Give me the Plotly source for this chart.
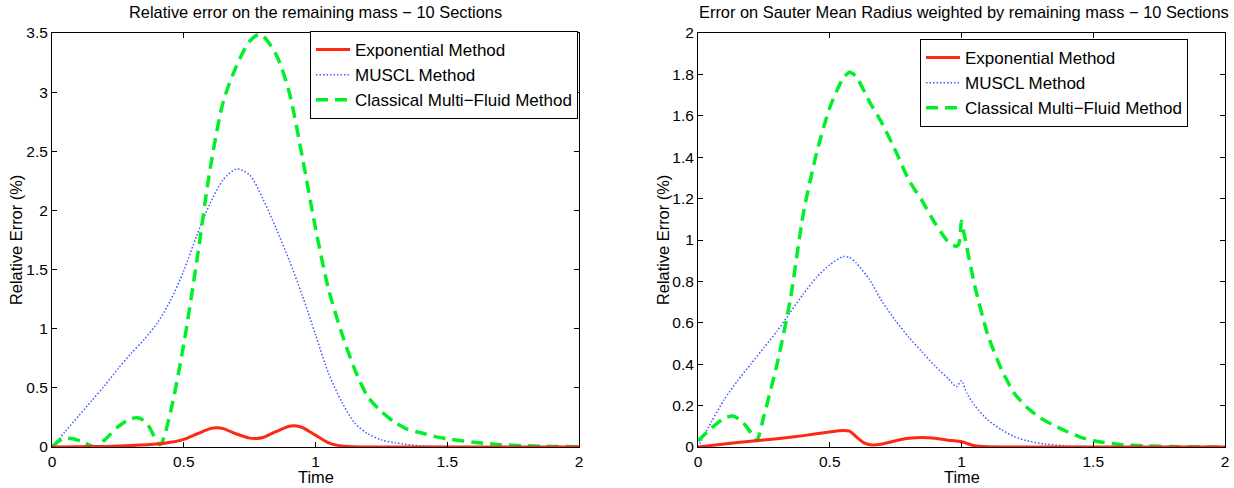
import plotly.graph_objects as go

# ---------------- data: left panel (remaining mass) ----------------
t_exp_L = [0, 0.1, 0.2, 0.3, 0.4, 0.45, 0.5, 0.55, 0.6, 0.625, 0.65, 0.7, 0.75, 0.775, 0.8,
           0.85, 0.9, 0.92, 0.95, 1.0, 1.05, 1.1, 1.15, 1.2, 1.5, 2.0]
v_exp_L = [0, 0.002, 0.005, 0.012, 0.025, 0.04, 0.065, 0.11, 0.155, 0.163, 0.155, 0.11, 0.075,
           0.072, 0.08, 0.13, 0.175, 0.18, 0.165, 0.10, 0.035, 0.008, 0.002, 0.0, 0.0, 0.0]

t_mus_L = [0, 0.05, 0.1, 0.15, 0.2, 0.25, 0.3, 0.35, 0.4, 0.45, 0.5, 0.55, 0.6, 0.65, 0.7, 0.75,
           0.8, 0.85, 0.9, 0.95, 1.0, 1.05, 1.1, 1.15, 1.2, 1.25, 1.3, 1.4, 1.5, 1.7, 2.0]
v_mus_L = [0, 0.13, 0.26, 0.39, 0.52, 0.66, 0.79, 0.91, 1.05, 1.24, 1.49, 1.79, 2.06, 2.26, 2.35,
           2.30, 2.10, 1.85, 1.58, 1.28, 0.95, 0.62, 0.38, 0.20, 0.11, 0.06, 0.035, 0.01, 0.003,
           0.0, 0.0]

t_cmf_L = [0, 0.04, 0.08, 0.12, 0.165, 0.2, 0.25, 0.3, 0.33, 0.36, 0.41, 0.45, 0.5, 0.55, 0.6,
           0.65, 0.7, 0.75, 0.79, 0.85, 0.9, 0.95, 1.0, 1.05, 1.1, 1.15, 1.2, 1.25, 1.3, 1.35,
           1.4, 1.45, 1.5, 1.6, 1.7, 1.8, 1.9, 2.0]
v_cmf_L = [0, 0.07, 0.07, 0.04, 0.0, 0.06, 0.17, 0.24, 0.245, 0.20, 0.02, 0.30, 0.87, 1.58, 2.35,
           2.92, 3.22, 3.43, 3.49, 3.32, 3.00, 2.45, 1.85, 1.33, 0.96, 0.65, 0.42, 0.30, 0.21,
           0.15, 0.12, 0.09, 0.07, 0.04, 0.02, 0.01, 0.005, 0.002]

# ---------------- data: right panel (Sauter mean radius) ----------------
t_exp_R = [0, 0.1, 0.2, 0.3, 0.4, 0.5, 0.55, 0.575, 0.6, 0.63, 0.66, 0.7, 0.75, 0.8, 0.85, 0.9,
           0.95, 1.0, 1.05, 1.1, 1.2, 1.5, 2.0]
v_exp_R = [0, 0.015, 0.028, 0.04, 0.055, 0.073, 0.08, 0.077, 0.05, 0.02, 0.01, 0.015, 0.03,
           0.042, 0.046, 0.042, 0.033, 0.025, 0.006, 0.001, 0.0, 0.0, 0.0]

t_mus_R = [0, 0.05, 0.1, 0.15, 0.2, 0.25, 0.3, 0.35, 0.4, 0.45, 0.5, 0.55, 0.575, 0.6, 0.65, 0.7,
           0.75, 0.8, 0.85, 0.9, 0.95, 0.98, 1.0, 1.02, 1.05, 1.1, 1.15, 1.2, 1.25, 1.3, 1.4,
           1.5, 1.7, 2.0]
v_mus_R = [0, 0.12, 0.23, 0.32, 0.40, 0.48, 0.56, 0.65, 0.74, 0.82, 0.88, 0.92, 0.915, 0.89,
           0.81, 0.70, 0.61, 0.53, 0.46, 0.39, 0.33, 0.29, 0.32, 0.26, 0.20, 0.13, 0.085, 0.05,
           0.03, 0.017, 0.005, 0.001, 0.0, 0.0]

t_cmf_R = [0, 0.05, 0.1, 0.134, 0.17, 0.2, 0.223, 0.25, 0.3, 0.35, 0.4, 0.45, 0.5, 0.55, 0.575,
           0.6, 0.65, 0.7, 0.75, 0.8, 0.85, 0.9, 0.95, 0.98, 0.99, 1.0, 1.01, 1.05, 1.1, 1.15,
           1.2, 1.25, 1.3, 1.35, 1.4, 1.45, 1.5, 1.6, 1.7, 1.8, 2.0]
v_cmf_R = [0.03, 0.09, 0.14, 0.15, 0.12, 0.07, 0.03, 0.15, 0.40, 0.71, 1.13, 1.42, 1.64, 1.78,
           1.81, 1.79, 1.67, 1.56, 1.43, 1.29, 1.19, 1.08, 0.99, 0.97, 0.98, 1.09, 1.03, 0.78,
           0.54, 0.38, 0.26, 0.19, 0.14, 0.105, 0.075, 0.048, 0.03, 0.012, 0.005, 0.002, 0.0]

names = ["Exponential Method", "MUSCL Method", "Classical Multi\u2212Fluid Method"]
titles = ["Relative error on the remaining mass \u2212 10 Sections",
          "Error on Sauter Mean Radius weighted by remaining mass \u2212 10 Sections"]
x_ticks = [0, 0.5, 1, 1.5, 2]

RED = "rgb(255,40,20)"
BLUE = "rgb(60,90,255)"
GREEN = "rgb(0,240,40)"
FONT = "Liberation Sans, Arial, sans-serif"

W, H = 1234, 488
# plot-area pixel boxes
L_box = (52, 579)
R_box = (698, 1225)
Y_box = (33, 447)


def px(x):
    return x / W


def py(y):
    return (H - y) / H


fig = go.Figure()

styles = [dict(color=RED, width=3),
          dict(color=BLUE, width=1.5, dash="1.5px,2px"),
          dict(color=GREEN, width=3.5, dash="12px,7px")]

left = [(t_exp_L, v_exp_L), (t_mus_L, v_mus_L), (t_cmf_L, v_cmf_L)]
right = [(t_exp_R, v_exp_R), (t_mus_R, v_mus_R), (t_cmf_R, v_cmf_R)]

draw_order = [1, 2, 0]
for i in draw_order:
    t, v = left[i]
    fig.add_trace(go.Scatter(x=t, y=v, mode="lines", name=names[i],
                             line=dict(shape="spline", smoothing=0.8, **styles[i]),
                             xaxis="x", yaxis="y", legend="legend", legendrank=i))
for i in draw_order:
    t, v = right[i]
    fig.add_trace(go.Scatter(x=t, y=v, mode="lines", name=names[i],
                             line=dict(shape="spline", smoothing=0.6, **styles[i]),
                             xaxis="x2", yaxis="y2", legend="legend2", legendrank=i))

axis_common = dict(showline=True, linecolor="black", linewidth=1, mirror="ticks",
                   ticks="inside", ticklen=5, tickcolor="black", showgrid=False,
                   zeroline=False, automargin=False,
                   tickfont=dict(family=FONT, size=15.5, color="black"))

legend_common = dict(bordercolor="black", borderwidth=1, bgcolor="white",
                     font=dict(family=FONT, size=17, color="black"),
                     xanchor="right", yanchor="middle", tracegroupgap=0,
                     itemwidth=34, traceorder="normal")

fig.update_layout(
    width=W, height=H,
    margin=dict(l=0, r=0, t=0, b=0, autoexpand=False),
    paper_bgcolor="white", plot_bgcolor="white",
    showlegend=True,
    xaxis=dict(domain=[px(L_box[0]), px(L_box[1])], range=[0, 2], tickvals=x_ticks,
               anchor="y", **axis_common),
    yaxis=dict(domain=[py(Y_box[1]), py(Y_box[0])], range=[0, 3.5], dtick=0.5, tick0=0,
               anchor="x", **axis_common),
    xaxis2=dict(domain=[px(R_box[0]), px(R_box[1])], range=[0, 2], tickvals=x_ticks,
                anchor="y2", **axis_common),
    yaxis2=dict(domain=[py(Y_box[1]), py(Y_box[0])], range=[0, 2], dtick=0.2, tick0=0,
                anchor="x2", **axis_common),
    legend=dict(x=px(578), y=py(75), **legend_common),
    legend2=dict(x=px(1188), y=py(83), **legend_common),
)

ann_font = dict(family=FONT, size=16.4, color="black")
annotations = [
    dict(text=titles[0], x=px((L_box[0] + L_box[1]) / 2), y=py(12)),
    dict(text=titles[1], x=px((R_box[0] + R_box[1]) / 2 + 2), y=py(12)),
    dict(text="Time", x=px((L_box[0] + L_box[1]) / 2), y=py(477)),
    dict(text="Time", x=px((R_box[0] + R_box[1]) / 2), y=py(477)),
    dict(text="Relative Error (%)", x=px(16), y=py(240), textangle=-90),
    dict(text="Relative Error (%)", x=px(663), y=py(240), textangle=-90),
]
for a in annotations:
    a.update(xref="paper", yref="paper", showarrow=False, xanchor="center",
             yanchor="middle", font=ann_font)
fig.update_layout(annotations=annotations)

fig.write_html("out.html")
